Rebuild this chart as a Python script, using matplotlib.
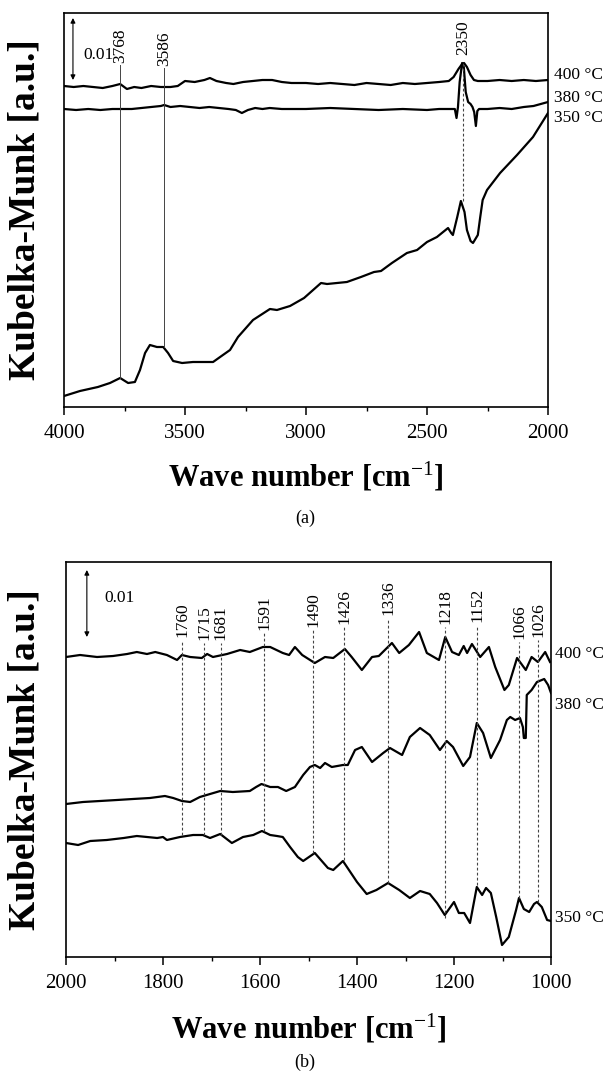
import matplotlib
matplotlib.use("Agg")
import matplotlib.pyplot as plt
from matplotlib.ticker import MultipleLocator
import matplotlib.transforms as mtransforms

plt.rcParams['font.family'] = ['Liberation Serif', 'DejaVu Serif']
plt.rcParams['mathtext.fontset'] = 'custom'
plt.rcParams['mathtext.rm'] = 'Liberation Serif'
plt.rcParams['mathtext.bf'] = 'Liberation Serif:bold'
plt.rcParams['mathtext.it'] = 'Liberation Serif:italic'

# ---- (a) 4000-2000 cm-1 ----
wn_a_400 = [4000, 3960, 3920, 3880, 3840, 3800, 3768, 3740, 3710, 3680, 3640, 3600, 3560, 3530,
            3500, 3460, 3420, 3397, 3370, 3330, 3300, 3260, 3220, 3180, 3140, 3100, 3060, 3000,
            2950, 2900, 2850, 2800, 2750, 2700, 2650, 2600, 2550, 2500, 2450, 2410, 2390, 2370,
            2355, 2347, 2335, 2320, 2306, 2290, 2250, 2200, 2150, 2100, 2050, 2000]
km_a_400 = [321, 320, 321, 320, 319, 321, 323, 318, 320, 319, 321, 320, 320, 321,
            326, 325, 327, 329, 326, 324, 323, 325, 326, 327, 327, 325, 324, 324,
            323, 324, 323, 322, 324, 323, 322, 324, 323, 324, 325, 326, 330, 338,
            343, 344, 340, 332, 327, 326, 326, 327, 326, 327, 326, 327]

wn_a_380 = [4000, 3950, 3900, 3850, 3800, 3760, 3720, 3680, 3640, 3600, 3586, 3560, 3520, 3480,
            3440, 3400, 3360, 3320, 3290, 3265, 3240, 3210, 3180, 3150, 3100, 3050, 3000, 2900,
            2800, 2700, 2600, 2500, 2450, 2400, 2385, 2378, 2372, 2365, 2355, 2348, 2340, 2330,
            2320, 2312, 2305, 2298, 2292, 2285, 2250, 2200, 2150, 2100, 2060, 2030, 2000]
km_a_380 = [298, 297, 298, 297, 298, 298, 298, 299, 300, 301, 302, 300, 301, 300,
            299, 300, 299, 298, 297, 294, 297, 299, 298, 299, 298, 298, 298, 299,
            298, 297, 298, 297, 298, 298, 298, 289, 300, 325, 344, 340, 315, 305,
            303, 300, 295, 281, 296, 298, 298, 299, 298, 300, 301, 303, 305]

wn_a_350 = [4000, 3934, 3860, 3810, 3768, 3735, 3707, 3686, 3665, 3645, 3616, 3590, 3570, 3549,
            3512, 3467, 3426, 3384, 3355, 3314, 3281, 3219, 3149, 3120, 3066, 3008, 2938, 2913,
            2831, 2773, 2719, 2690, 2645, 2583, 2541, 2500, 2459, 2413, 2400, 2393, 2375, 2360,
            2345, 2335, 2320, 2310, 2290, 2280, 2270, 2252, 2198, 2128, 2062, 2000]
km_a_350 = [11, 16, 20, 24, 29, 24, 25, 37, 54, 62, 60, 60, 54, 46,
            44, 45, 45, 45, 50, 57, 70, 87, 98, 97, 101, 109, 124, 123,
            125, 130, 135, 136, 144, 154, 157, 165, 170, 179, 174, 172, 190, 206,
            195, 177, 166, 164, 172, 190, 207, 217, 234, 252, 270, 294]

peaks_a = [3768, 3586]
peaks_a_top = [342, 339]
peaks_a_bottom = [29, 60]
co2_peak = 2350

# ---- (b) 2000-1000 cm-1 ----
wn_b_400 = [2000, 1971, 1936, 1903, 1874, 1854, 1833, 1816, 1792, 1771, 1761, 1744, 1720, 1709,
            1697, 1668, 1641, 1621, 1594, 1579, 1553, 1540, 1528, 1513, 1487, 1466, 1449, 1425,
            1411, 1390, 1369, 1355, 1328, 1313, 1293, 1272, 1256, 1231, 1218, 1204, 1190, 1180,
            1173, 1163, 1146, 1128, 1115, 1096, 1087, 1070, 1064, 1052, 1040, 1027, 1012, 1002]
km_b_400 = [300, 302, 300, 301, 303, 305, 303, 305, 302, 297, 302, 300, 299, 303,
            300, 303, 307, 305, 310, 310, 304, 302, 310, 302, 294, 300, 299, 308,
            300, 287, 300, 301, 314, 304, 312, 325, 304, 297, 320, 305, 302, 311,
            304, 313, 300, 310, 290, 267, 272, 299, 295, 287, 300, 295, 305, 295]

wn_b_380 = [2000, 1965, 1930, 1895, 1862, 1827, 1796, 1779, 1761, 1744, 1724, 1703, 1682, 1656,
            1621, 1608, 1597, 1579, 1563, 1546, 1528, 1511, 1497, 1487, 1476, 1466, 1452, 1429,
            1419, 1404, 1390, 1369, 1346, 1332, 1307, 1291, 1270, 1250, 1229, 1215, 1202, 1181,
            1167, 1153, 1140, 1124, 1105, 1091, 1084, 1074, 1064, 1058, 1056, 1052, 1050, 1040,
            1029, 1014, 1006, 1000]
km_b_380 = [153, 155, 156, 157, 158, 159, 161, 159, 156, 155, 160, 163, 166, 165,
            166, 170, 173, 170, 170, 166, 170, 182, 190, 192, 189, 194, 190, 192,
            192, 207, 210, 195, 204, 209, 202, 220, 229, 222, 207, 216, 210, 191,
            200, 234, 224, 199, 217, 237, 240, 237, 239, 230, 219, 219, 262, 267,
            275, 278, 272, 264]

wn_b_350 = [2000, 1975, 1950, 1916, 1881, 1854, 1833, 1812, 1800, 1792, 1765, 1738, 1718, 1703,
            1682, 1658, 1635, 1614, 1596, 1579, 1565, 1553, 1538, 1522, 1511, 1487, 1460, 1449,
            1429, 1400, 1380, 1360, 1336, 1313, 1291, 1270, 1250, 1235, 1219, 1200, 1190, 1179,
            1167, 1153, 1142, 1134, 1124, 1113, 1101, 1087, 1072, 1066, 1056, 1045, 1035, 1029,
            1019, 1008, 1000]
km_b_350 = [114, 112, 116, 117, 119, 121, 120, 119, 120, 117, 120, 122, 122, 119,
            123, 114, 120, 122, 126, 122, 121, 120, 110, 100, 96, 104, 89, 87,
            96, 75, 63, 67, 74, 67, 59, 66, 63, 54, 42, 55, 44, 44,
            34, 70, 62, 69, 64, 40, 12, 20, 47, 59, 48, 45, 53, 55,
            50, 37, 36]

peaks_b = [1760, 1715, 1681, 1591, 1490, 1426, 1336, 1218, 1152, 1066, 1026]
peaks_b_top = [317, 314, 314, 324, 327, 330, 339, 330, 332, 315, 317]
peaks_b_bottom = [122, 122, 122, 126, 104, 97, 74, 39, 72, 59, 55]

temps = ['400 °C', '380 °C', '350 °C']
label_a_y = [332, 309, 289]
label_b_y = [303, 252, 39]

fig = plt.figure(figsize=(6.08, 10.79), dpi=100)
ax_a = fig.add_axes([64 / 608, 1 - 407 / 1079, 484 / 608, 394 / 1079])
ax_b = fig.add_axes([66 / 608, 1 - 957 / 1079, 485 / 608, 395 / 1079])

line_kw = dict(color='black', lw=1.6, solid_joinstyle='round')
text_kw = dict(fontsize=12.5, rotation=90, ha='center', va='bottom')

# panel (a)
for wn, km in [(wn_a_400, km_a_400), (wn_a_380, km_a_380), (wn_a_350, km_a_350)]:
    ax_a.plot(wn, km, **line_kw)
for p, top, bot in zip(peaks_a, peaks_a_top, peaks_a_bottom):
    ax_a.plot([p, p], [bot, top], color='#444444', lw=0.7)
    ax_a.text(p, top + 2, str(p), **text_kw)
ax_a.plot([co2_peak, co2_peak], [206, 344], color='#444444', lw=0.8, ls=(0, (2.5, 2)))
ax_a.text(co2_peak, 352, str(co2_peak), **text_kw)
ax_a.annotate('', xy=(3963, 327), xytext=(3963, 389),
              arrowprops=dict(arrowstyle='<|-|>', color='black', lw=0.8,
                              mutation_scale=7, shrinkA=0, shrinkB=0))
ax_a.text(3921, 352, '0.01', fontsize=12.5, va='center', ha='left')

ax_a.set_xlim(4000, 2000)
ax_a.set_ylim(0, 394)
ax_a.xaxis.set_major_locator(MultipleLocator(500))
ax_a.xaxis.set_minor_locator(MultipleLocator(250))

trans_a = mtransforms.blended_transform_factory(ax_a.transAxes, ax_a.transData)
for t, y in zip(temps, label_a_y):
    ax_a.text(1.012, y, t, transform=trans_a, fontsize=12.5, va='center', ha='left')

# panel (b)
for wn, km in [(wn_b_400, km_b_400), (wn_b_380, km_b_380), (wn_b_350, km_b_350)]:
    ax_b.plot(wn, km, **line_kw)
for p, top, bot in zip(peaks_b, peaks_b_top, peaks_b_bottom):
    ax_b.plot([p, p], [bot, top], color='#444444', lw=0.8, ls=(0, (2.5, 2)))
    ax_b.text(p, top + 3, str(p), **text_kw)
ax_b.annotate('', xy=(1957, 320), xytext=(1957, 387),
              arrowprops=dict(arrowstyle='<|-|>', color='black', lw=0.8,
                              mutation_scale=7, shrinkA=0, shrinkB=0))
ax_b.text(1920, 359, '0.01', fontsize=12.5, va='center', ha='left')

ax_b.set_xlim(2000, 1000)
ax_b.set_ylim(0, 395)
ax_b.xaxis.set_major_locator(MultipleLocator(200))
ax_b.xaxis.set_minor_locator(MultipleLocator(100))

trans_b = mtransforms.blended_transform_factory(ax_b.transAxes, ax_b.transData)
for t, y in zip(temps, label_b_y):
    ax_b.text(1.008, y, t, transform=trans_b, fontsize=12.5, va='center', ha='left')

for ax in (ax_a, ax_b):
    ax.set_yticks([])
    for s in ax.spines.values():
        s.set_linewidth(1.2)
    ax.tick_params(axis='x', which='major', direction='out', length=6, width=1.1,
                   labelsize=15, pad=6)
    ax.tick_params(axis='x', which='minor', direction='out', length=3, width=1.0)
    ax.set_ylabel('Kubelka-Munk [a.u.]', fontsize=27, fontweight='bold')
    ax.set_xlabel(r'Wave number [cm$^{-1}$]', fontsize=22, fontweight='bold')

ax_a.yaxis.set_label_coords(-0.045, 0.5)
ax_b.yaxis.set_label_coords(-0.049, 0.5)
ax_a.xaxis.set_label_coords(0.5, -0.135)
ax_b.xaxis.set_label_coords(0.5, -0.139)

fig.text(305 / 608, 1 - 518 / 1079, '(a)', fontsize=13, ha='center', va='center')
fig.text(305 / 608, 1 - 1062 / 1079, '(b)', fontsize=13, ha='center', va='center')

fig.savefig('out.png', dpi=100)
